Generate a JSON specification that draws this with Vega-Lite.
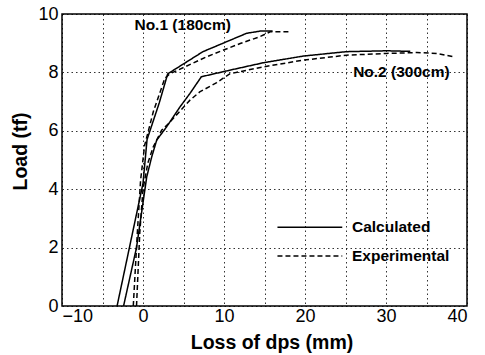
{
  "$schema": "https://vega.github.io/schema/vega-lite/v6.json",
  "width": 405,
  "height": 292,
  "autosize": {"type": "none"},
  "padding": {"left": 62, "top": 14, "right": 18, "bottom": 49},
  "background": "white",
  "config": {
    "view": {"stroke": "black", "strokeWidth": 1.5},
    "font": "Liberation Sans",
    "axis": {
      "domain": false,
      "ticks": false,
      "grid": true,
      "gridColor": "black",
      "gridDash": [1.5, 3],
      "gridWidth": 1,
      "gridOpacity": 0.8,
      "labelFont": "Liberation Sans",
      "labelFontSize": 18,
      "labelColor": "black",
      "titleFont": "Liberation Sans",
      "titleFontSize": 19.5,
      "titleFontWeight": "bold",
      "titleColor": "black"
    }
  },
  "datasets": {
    "curves": [
      {"series": "No.1 Calculated", "type": "Calculated", "i": 0, "x": -3.2, "y": 0},
      {"series": "No.1 Calculated", "type": "Calculated", "i": 1, "x": 0.0, "y": 4.2},
      {"series": "No.1 Calculated", "type": "Calculated", "i": 2, "x": 0.5, "y": 5.7},
      {"series": "No.1 Calculated", "type": "Calculated", "i": 3, "x": 2.0, "y": 6.95},
      {"series": "No.1 Calculated", "type": "Calculated", "i": 4, "x": 3.05, "y": 7.95},
      {"series": "No.1 Calculated", "type": "Calculated", "i": 5, "x": 7.4, "y": 8.71},
      {"series": "No.1 Calculated", "type": "Calculated", "i": 6, "x": 12.8, "y": 9.34},
      {"series": "No.1 Calculated", "type": "Calculated", "i": 7, "x": 14.6, "y": 9.42},
      {"series": "No.1 Calculated", "type": "Calculated", "i": 8, "x": 16.0, "y": 9.42},

      {"series": "No.1 Experimental", "type": "Experimental", "i": 0, "x": -1.2, "y": 0},
      {"series": "No.1 Experimental", "type": "Experimental", "i": 1, "x": -0.7, "y": 2.5},
      {"series": "No.1 Experimental", "type": "Experimental", "i": 2, "x": -0.3, "y": 4.3},
      {"series": "No.1 Experimental", "type": "Experimental", "i": 3, "x": 0.2, "y": 5.5},
      {"series": "No.1 Experimental", "type": "Experimental", "i": 4, "x": 1.27, "y": 6.65},
      {"series": "No.1 Experimental", "type": "Experimental", "i": 5, "x": 2.7, "y": 7.8},
      {"series": "No.1 Experimental", "type": "Experimental", "i": 6, "x": 3.3, "y": 7.95},
      {"series": "No.1 Experimental", "type": "Experimental", "i": 7, "x": 7.9, "y": 8.54},
      {"series": "No.1 Experimental", "type": "Experimental", "i": 8, "x": 12.0, "y": 8.99},
      {"series": "No.1 Experimental", "type": "Experimental", "i": 9, "x": 14.4, "y": 9.22},
      {"series": "No.1 Experimental", "type": "Experimental", "i": 10, "x": 15.7, "y": 9.39},
      {"series": "No.1 Experimental", "type": "Experimental", "i": 11, "x": 18.1, "y": 9.39},

      {"series": "No.2 Calculated", "type": "Calculated", "i": 0, "x": -2.4, "y": 0},
      {"series": "No.2 Calculated", "type": "Calculated", "i": 1, "x": -0.8, "y": 2.0},
      {"series": "No.2 Calculated", "type": "Calculated", "i": 2, "x": 0.46, "y": 4.42},
      {"series": "No.2 Calculated", "type": "Calculated", "i": 3, "x": 1.07, "y": 5.1},
      {"series": "No.2 Calculated", "type": "Calculated", "i": 4, "x": 1.69, "y": 5.68},
      {"series": "No.2 Calculated", "type": "Calculated", "i": 5, "x": 2.9, "y": 6.13},
      {"series": "No.2 Calculated", "type": "Calculated", "i": 6, "x": 4.57, "y": 6.82},
      {"series": "No.2 Calculated", "type": "Calculated", "i": 7, "x": 5.8, "y": 7.28},
      {"series": "No.2 Calculated", "type": "Calculated", "i": 8, "x": 7.2, "y": 7.85},
      {"series": "No.2 Calculated", "type": "Calculated", "i": 9, "x": 10.3, "y": 8.05},
      {"series": "No.2 Calculated", "type": "Calculated", "i": 10, "x": 14.85, "y": 8.33},
      {"series": "No.2 Calculated", "type": "Calculated", "i": 11, "x": 19.8, "y": 8.56},
      {"series": "No.2 Calculated", "type": "Calculated", "i": 12, "x": 25.1, "y": 8.71},
      {"series": "No.2 Calculated", "type": "Calculated", "i": 13, "x": 30.1, "y": 8.74},
      {"series": "No.2 Calculated", "type": "Calculated", "i": 14, "x": 33.0, "y": 8.72},

      {"series": "No.2 Experimental", "type": "Experimental", "i": 0, "x": -0.8, "y": 0},
      {"series": "No.2 Experimental", "type": "Experimental", "i": 1, "x": -0.4, "y": 2.5},
      {"series": "No.2 Experimental", "type": "Experimental", "i": 2, "x": 0.0, "y": 4.0},
      {"series": "No.2 Experimental", "type": "Experimental", "i": 3, "x": 0.6, "y": 4.9},
      {"series": "No.2 Experimental", "type": "Experimental", "i": 4, "x": 1.27, "y": 5.45},
      {"series": "No.2 Experimental", "type": "Experimental", "i": 5, "x": 2.3, "y": 6.02},
      {"series": "No.2 Experimental", "type": "Experimental", "i": 6, "x": 3.33, "y": 6.3},
      {"series": "No.2 Experimental", "type": "Experimental", "i": 7, "x": 5.8, "y": 7.05},
      {"series": "No.2 Experimental", "type": "Experimental", "i": 8, "x": 7.0, "y": 7.33},
      {"series": "No.2 Experimental", "type": "Experimental", "i": 9, "x": 9.1, "y": 7.65},
      {"series": "No.2 Experimental", "type": "Experimental", "i": 10, "x": 10.7, "y": 7.95},
      {"series": "No.2 Experimental", "type": "Experimental", "i": 11, "x": 14.85, "y": 8.19},
      {"series": "No.2 Experimental", "type": "Experimental", "i": 12, "x": 19.8, "y": 8.42},
      {"series": "No.2 Experimental", "type": "Experimental", "i": 13, "x": 25.1, "y": 8.59},
      {"series": "No.2 Experimental", "type": "Experimental", "i": 14, "x": 30.1, "y": 8.65},
      {"series": "No.2 Experimental", "type": "Experimental", "i": 15, "x": 33.8, "y": 8.68},
      {"series": "No.2 Experimental", "type": "Experimental", "i": 16, "x": 36.25, "y": 8.65},
      {"series": "No.2 Experimental", "type": "Experimental", "i": 17, "x": 38.3, "y": 8.54}
    ],
    "legend": [
      {"type": "Calculated", "x": 16.6, "x2": 24.6, "y": 2.7, "lx": 25.8},
      {"type": "Experimental", "x": 16.6, "x2": 24.6, "y": 1.71, "lx": 25.8}
    ],
    "labels": [
      {"text": "No.1 (180cm)", "x": 4.9, "y": 9.62},
      {"text": "No.2 (300cm)", "x": 31.9, "y": 8.02}
    ]
  },
  "layer": [
    {
      "data": {"name": "curves"},
      "mark": {"type": "line", "color": "black", "strokeWidth": 1.5, "clip": true},
      "encoding": {
        "x": {
          "field": "x", "type": "quantitative",
          "scale": {"domain": [-10, 40], "nice": false, "zero": false},
          "axis": {
            "title": "Loss of dps (mm)",
            "values": [-10, -5, 0, 5, 10, 15, 20, 25, 30, 35, 40],
            "labelExpr": "datum.value % 10 === 0 ? datum.label : ''",
            "labelPadding": 1,
            "titleX": 209.5,
            "titleY": 42,
            "titleAnchor": null,
            "titleAlign": "center",
            "titleBaseline": "alphabetic"
          }
        },
        "y": {
          "field": "y", "type": "quantitative",
          "scale": {"domain": [0, 10], "nice": false},
          "axis": {
            "title": "Load (tf)",
            "values": [0, 1, 2, 3, 4, 5, 6, 7, 8, 9, 10],
            "labelExpr": "datum.value % 2 === 0 ? datum.label : ''",
            "labelPadding": 4,
            "titleX": -42,
            "titleY": 137,
            "titleAngle": -90,
            "titleAlign": "center",
            "titleBaseline": "middle"
          }
        },
        "detail": {"field": "series"},
        "order": {"field": "i", "type": "quantitative"},
        "strokeDash": {
          "field": "type", "type": "nominal",
          "scale": {"domain": ["Calculated", "Experimental"], "range": [[1, 0], [5, 3]]},
          "legend": null
        }
      }
    },
    {
      "data": {"name": "legend"},
      "mark": {"type": "rule", "color": "black", "strokeWidth": 1.5},
      "encoding": {
        "x": {"field": "x", "type": "quantitative"},
        "x2": {"field": "x2"},
        "y": {"field": "y", "type": "quantitative"},
        "strokeDash": {
          "field": "type", "type": "nominal",
          "scale": {"domain": ["Calculated", "Experimental"], "range": [[1, 0], [5, 3]]},
          "legend": null
        }
      }
    },
    {
      "data": {"name": "legend"},
      "mark": {"type": "text", "align": "left", "baseline": "middle", "fontSize": 15.5, "fontWeight": "bold", "color": "black", "font": "Liberation Sans"},
      "encoding": {
        "x": {"field": "lx", "type": "quantitative"},
        "y": {"field": "y", "type": "quantitative"},
        "text": {"field": "type"}
      }
    },
    {
      "data": {"name": "labels"},
      "mark": {"type": "text", "align": "center", "baseline": "middle", "fontSize": 15.5, "fontWeight": "bold", "color": "black", "font": "Liberation Sans"},
      "encoding": {
        "x": {"field": "x", "type": "quantitative"},
        "y": {"field": "y", "type": "quantitative"},
        "text": {"field": "text"}
      }
    }
  ]
}
